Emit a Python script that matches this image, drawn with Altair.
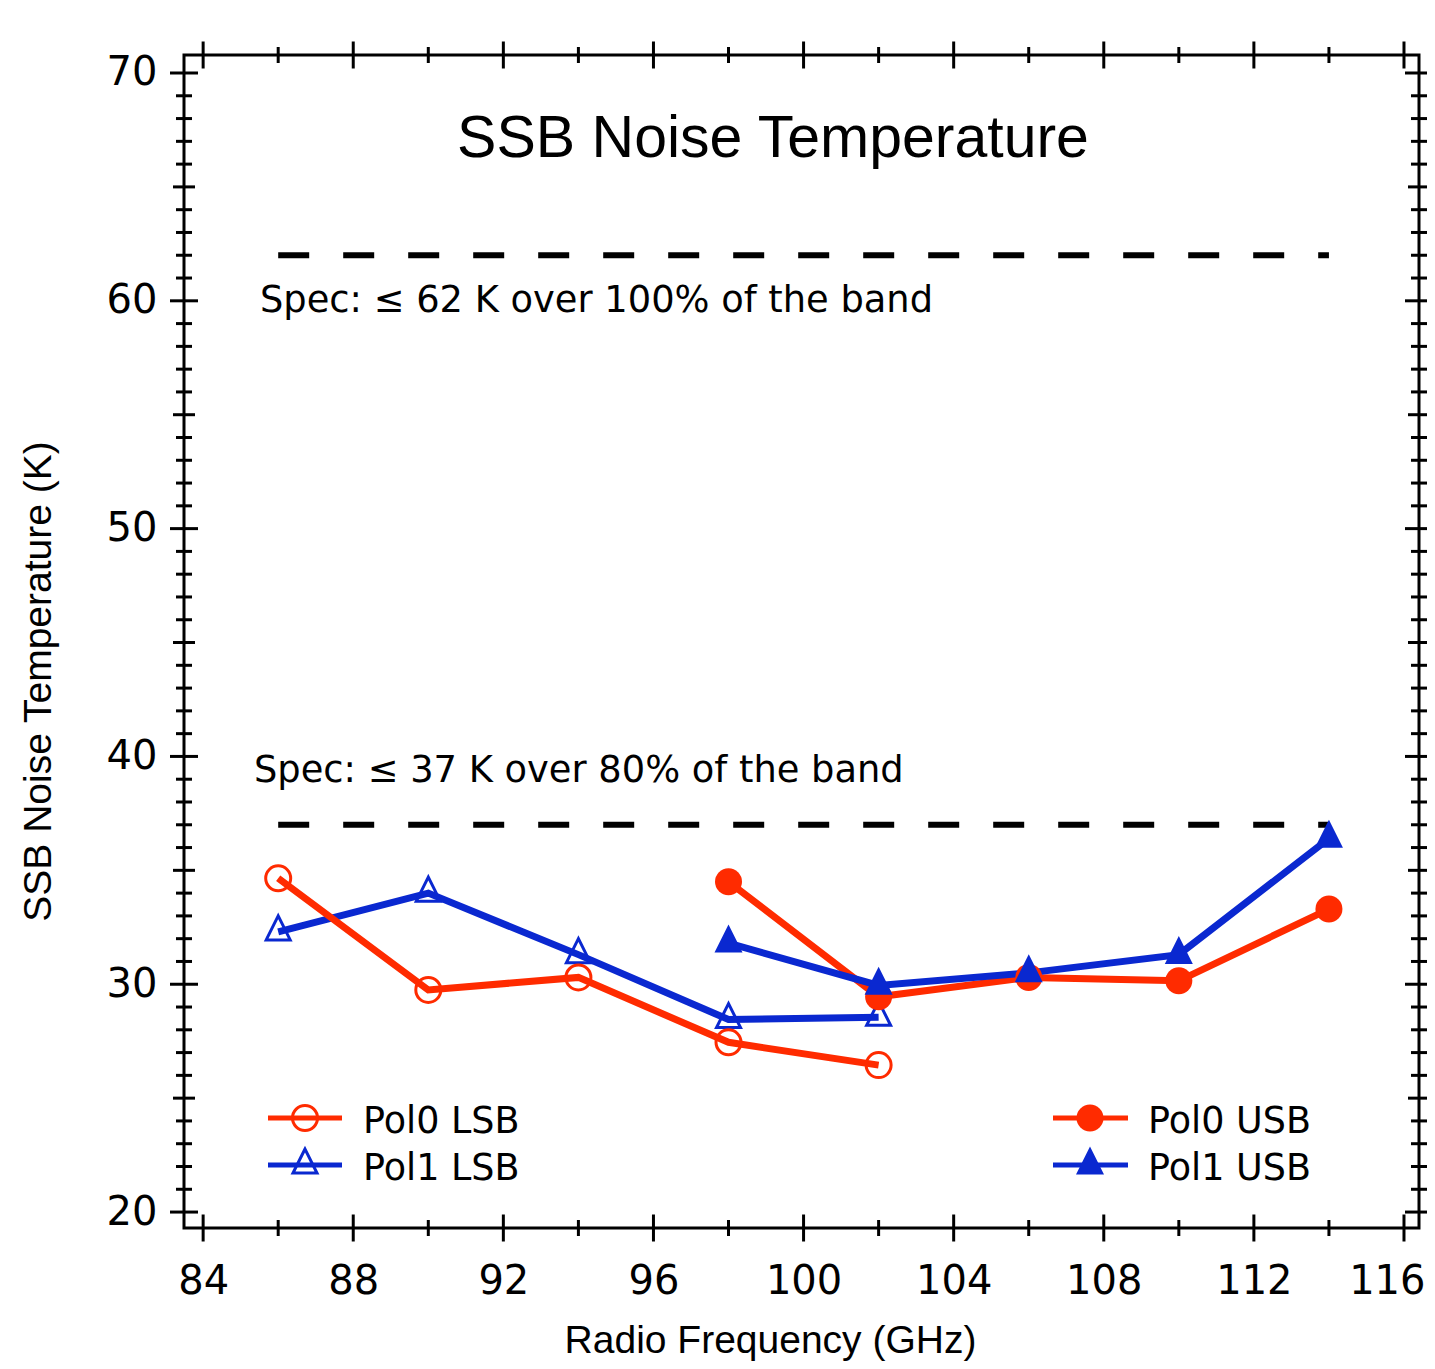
import altair as alt
import pandas as pd

# ---------------- data ----------------
freq_lsb = [86, 90, 94, 98, 102]
freq_usb = [98, 102, 106, 110, 114]
pol0_lsb = [34.65, 29.75, 30.3, 27.45, 26.45]
pol1_lsb = [32.3, 34.0, 31.3, 28.45, 28.55]
pol0_usb = [34.5, 29.45, 30.3, 30.15, 33.3]
pol1_usb = [31.8, 29.95, 30.5, 31.3, 36.4]

spec_values = [62, 37]
spec_start = [86, 86]
spec_end = [114, 114]
spec_labels = ["Spec: \u2264 62 K over 100% of the band", "Spec: \u2264 37 K over 80% of the band"]

x_labels = [84, 88, 92, 96, 100, 104, 108, 112, 116]
x_minor = [86, 90, 94, 98, 102, 106, 110, 114]
y_labels = [20, 30, 40, 50, 60, 70]
y_mid = [25, 35, 45, 55, 65]
y_minor = [v for v in range(20, 71) if v % 5 != 0]

legend_labels = ["Pol0 LSB", "Pol1 LSB", "Pol0 USB", "Pol1 USB"]

# ---------------- style ----------------
W, H = 1235, 1173
RED = "#ff2b00"
BLUE = "#0a28d0"
TRI = "M0,-1.33L-1,0.67L1,0.67Z"
TICK_FONT = "DejaVu Sans"
SANS = "Liberation Sans"

xscale = alt.Scale(domain=[83.49, 116.4], nice=False, zero=False)
yscale = alt.Scale(domain=[19.30, 70.79], nice=False, zero=False)

last_x = "datum.value == %d" % x_labels[-1]
xaxis = alt.Axis(values=x_labels, title="Radio Frequency (GHz)", grid=False, domain=False,
                 ticks=False, tickSize=0, labelPadding=33, labelFont=TICK_FONT, labelFontSize=40,
                 labelColor="black", titleFont=SANS, titleFontSize=39, titleFontWeight="normal",
                 titleColor="black", titleX=586, titleY=112, titleAlign="center",
                 titleBaseline="middle", labelFlush=False, labelOverlap=False,
                 labelAlign={"condition": {"test": last_x, "value": "right"}, "value": "center"},
                 labelOffset={"condition": {"test": last_x, "value": 21}, "value": 0})
yaxis = alt.Axis(values=y_labels, title="SSB Noise Temperature (K)", grid=False, domain=False,
                 ticks=False, tickSize=0, labelPadding=27, labelFont=TICK_FONT, labelFontSize=40,
                 labelColor="black", labelBaseline="middle", titleFont=SANS, titleFontSize=39,
                 titleFontWeight="normal", titleColor="black", titleX=-146, titleY=626,
                 titleAngle=270, titleAlign="center", titleBaseline="middle",
                 labelFlush=False, labelOverlap=False)


def X(field):
    return alt.X(field, scale=xscale, axis=xaxis)


def Y(field):
    return alt.Y(field, scale=yscale, axis=yaxis)


layers = []

# spec dashed lines
spec_df = pd.DataFrame({"v": spec_values, "a": spec_start, "b": spec_end})
layers.append(
    alt.Chart(spec_df).mark_rule(color="black", strokeWidth=6, strokeDash=[31, 34]).encode(
        x=X("a:Q"), x2="b:Q", y=Y("v:Q")
    )
)

# data series
specs = [
    (freq_lsb, pol1_lsb, BLUE, TRI, False, 576),
    (freq_lsb, pol0_lsb, RED, "circle", False, 625),
    (freq_usb, pol0_usb, RED, "circle", True, 729),
    (freq_usb, pol1_usb, BLUE, TRI, True, 784),
]
lines, points = [], []
for f, v, c, s, fl, sz in specs:
    df = pd.DataFrame({"f": f, "t": v})
    base = alt.Chart(df).encode(x=X("f:Q"), y=Y("t:Q"))
    lines.append(base.mark_line(color=c, strokeWidth=7))
    if fl:
        points.append(base.mark_point(shape=s, filled=True, fill=c, color=c, size=sz,
                                      opacity=1, strokeWidth=1))
    else:
        points.append(base.mark_point(shape=s, filled=False, color=c, size=sz, opacity=1,
                                      strokeWidth=3))
layers += lines + points


# ticks (crossing frame on all four sides)
def xticks(values, half):
    df = pd.DataFrame({"x": values})
    base = alt.Chart(df).mark_rule(color="black", strokeWidth=3)
    return [
        base.encode(x=X("x:Q"), y=alt.value(H - half), y2=alt.value(H + half)),
        base.encode(x=X("x:Q"), y=alt.value(-half), y2=alt.value(half)),
    ]


def yticks(values, half):
    df = pd.DataFrame({"y": values})
    base = alt.Chart(df).mark_rule(color="black", strokeWidth=3)
    return [
        base.encode(y=Y("y:Q"), x=alt.value(-half), x2=alt.value(half)),
        base.encode(y=Y("y:Q"), x=alt.value(W - half), x2=alt.value(W + half)),
    ]


layers += xticks(x_labels, 13.5) + xticks(x_minor, 8)
layers += yticks(y_labels, 14) + yticks(y_mid, 11) + yticks(y_minor, 8)

# spec annotation texts
spec_text_pos = [(76, 246), (70, 716)]
for label, (px, py) in zip(spec_labels, spec_text_pos):
    layers.append(
        alt.Chart(pd.DataFrame({"label": [label]})).mark_text(
            font=TICK_FONT, fontSize=36.8, align="left", baseline="middle", color="black"
        ).encode(text="label:N", x=alt.value(px), y=alt.value(py))
    )

# title
layers.append(
    alt.Chart(pd.DataFrame({"label": ["SSB Noise Temperature"]})).mark_text(
        font=SANS, fontSize=59, align="center", baseline="middle", color="black"
    ).encode(text="label:N", x=alt.value(589), y=alt.value(84))
)

# legend (drawn by hand in two groups)
legend_style = [
    (RED, "circle", False, 625, 84, 158, 121, 179, 1063, 1067),
    (BLUE, TRI, False, 576, 84, 158, 121, 179, 1110, 1114),
    (RED, "circle", True, 729, 869, 944, 906, 964, 1063, 1067),
    (BLUE, TRI, True, 784, 869, 944, 906, 964, 1110, 1114),
]
for label, (c, s, fl, sz, x1, x2, xm, xt, yl, yt) in zip(legend_labels, legend_style):
    d = pd.DataFrame({"label": [label]})
    layers.append(alt.Chart(d).mark_rule(color=c, strokeWidth=5).encode(
        x=alt.value(x1), x2=alt.value(x2), y=alt.value(yl)))
    if fl:
        layers.append(alt.Chart(d).mark_point(shape=s, filled=True, fill=c, color=c, size=sz,
                                              opacity=1, strokeWidth=1).encode(
            x=alt.value(xm), y=alt.value(yl)))
    else:
        layers.append(alt.Chart(d).mark_point(shape=s, filled=False, color=c, size=sz,
                                              opacity=1, strokeWidth=3).encode(
            x=alt.value(xm), y=alt.value(yl)))
    layers.append(alt.Chart(d).mark_text(font=TICK_FONT, fontSize=36.5, align="left",
                                         baseline="middle", color="black").encode(
        text="label:N", x=alt.value(xt), y=alt.value(yt)))

chart = alt.layer(*layers).properties(
    width=W, height=H,
    autosize=alt.AutoSizeParams(type="none"),
    padding={"left": 176, "top": 47, "right": 8, "bottom": 133},
    background="white",
).configure_view(stroke="black", strokeWidth=3)

chart.save("out.html", embed_options={"renderer": "svg", "actions": False})
